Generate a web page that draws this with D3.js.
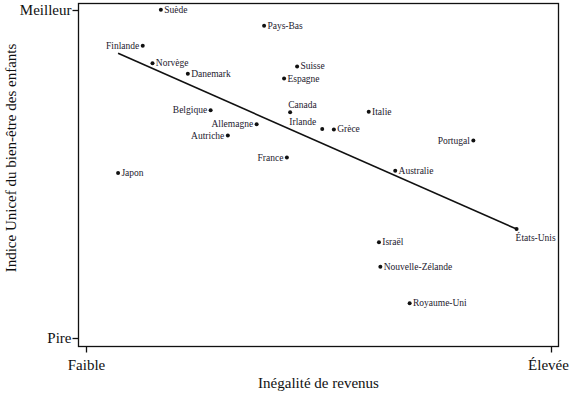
<!DOCTYPE html>
<html>
<head>
<meta charset="utf-8">
<script src="https://cdn.jsdelivr.net/npm/d3@7"></script>
<style>
  html, body { margin: 0; padding: 0; background: #fff; }
  svg { display: block; font-family: "Liberation Serif", "DejaVu Serif", serif; }
  .pt-label { font-size: 9.5px; fill: #23202e; }
  .tick-label { font-size: 15px; fill: #111; }
  .axis-title { font-size: 15px; fill: #111; }
</style>
</head>
<body>
<div id="chart"></div>
<script>
// ==== DATA ====
const COUNTRIES = ["Suède","Pays-Bas","Finlande","Norvège","Danemark","Suisse","Espagne","Canada",
  "Italie","Irlande","Grèce","Portugal","Australie","France","Belgique","Allemagne","Autriche",
  "Japon","États-Unis","Israël","Nouvelle-Zélande","Royaume-Uni"];
// income inequality (0 = Faible, 100 = Élevée)
const INEQUALITY = [16.1, 38.3, 12.2, 14.3, 21.9, 45.4, 42.6, 43.9,
  60.8, 50.8, 53.3, 83.3, 66.5, 43.2, 26.8, 36.7, 30.5,
  6.9, 92.6, 63.0, 63.3, 69.6];
// Unicef child well-being index (0 = Pire, 100 = Meilleur)
const WELLBEING = [100.1, 95.2, 89.1, 83.8, 80.6, 82.8, 79.1, 68.8,
  69.0, 63.7, 63.6, 60.2, 51.0, 55.0, 69.4, 65.2, 61.7,
  50.3, 33.2, 29.2, 21.7, 10.6];
// fitted trend line (start / end)
const TREND_X = [6.9, 92.6];
const TREND_Y = [86.8, 33.2];

const X_TICKS = [0, 100];
const X_TICK_LABELS = ["Faible", "Élevée"];
const Y_TICKS = [0, 100];
const Y_TICK_LABELS = ["Pire", "Meilleur"];

// label placement (default: right of the dot)
const LABEL_SIDE = {
  "Finlande": "left", "Belgique": "left", "Allemagne": "left", "Autriche": "left",
  "France": "left", "Portugal": "left", "Canada": "above", "Irlande": "aboveLeft",
  "États-Unis": "below"
};

// ==== SIZE ====
const width = 570, height = 394;
const box = { left: 78.5, right: 558.5, top: 3.5, bottom: 346.5 };

const x = d3.scaleLinear().domain([0, 100]).range([box.left + 7.5, box.right - 7.5]);
const y = d3.scaleLinear().domain([0, 100]).range([box.bottom - 8.5, box.top + 6.5]);

const svg = d3.select("#chart").append("svg")
  .attr("width", width)
  .attr("height", height)
  .attr("viewBox", `0 0 ${width} ${height}`);

// frame
svg.append("rect")
  .attr("x", box.left).attr("y", box.top)
  .attr("width", box.right - box.left).attr("height", box.bottom - box.top)
  .attr("fill", "none").attr("stroke", "#111").attr("stroke-width", 1.3);

// axes
const gx = svg.append("g").attr("transform", `translate(0,${box.bottom})`)
  .call(d3.axisBottom(x).tickValues(X_TICKS).tickSize(6).tickPadding(3)
    .tickFormat((d, i) => X_TICK_LABELS[i]));
const gy = svg.append("g").attr("transform", `translate(${box.left},0)`)
  .call(d3.axisLeft(y).tickValues(Y_TICKS).tickSize(6).tickPadding(1)
    .tickFormat((d, i) => Y_TICK_LABELS[i]));

[gx, gy].forEach(g => {
  g.attr("font-family", null).attr("font-size", null);
  g.select(".domain").remove();
  g.selectAll(".tick line").attr("stroke", "#111").attr("stroke-width", 1.3);
  g.selectAll(".tick text").attr("class", "tick-label");
});
gx.selectAll(".tick text").attr("dy", "0.95em").attr("dx", (d, i) => i === 1 ? -3 : 0);

// axis titles
svg.append("text")
  .attr("class", "axis-title")
  .attr("x", (box.left + box.right) / 2)
  .attr("y", 388)
  .attr("text-anchor", "middle")
  .text("Inégalité de revenus");

svg.append("text")
  .attr("class", "axis-title")
  .attr("transform", `translate(16,158) rotate(-90)`)
  .attr("text-anchor", "middle")
  .text("Indice Unicef du bien-être des enfants");

// trend line
svg.append("line")
  .attr("x1", x(TREND_X[0])).attr("y1", y(TREND_Y[0]))
  .attr("x2", x(TREND_X[1])).attr("y2", y(TREND_Y[1]))
  .attr("stroke", "#111").attr("stroke-width", 1.6);

// points
const points = COUNTRIES.map((c, i) => ({ name: c, ix: INEQUALITY[i], wb: WELLBEING[i] }));

const g = svg.append("g").attr("class", "points");
const pt = g.selectAll("g.pt").data(points).enter().append("g")
  .attr("class", "pt")
  .attr("transform", d => `translate(${x(d.ix)},${y(d.wb)})`);

pt.append("circle").attr("r", 2).attr("fill", "#111");

pt.append("text")
  .attr("class", "pt-label")
  .each(function(d) {
    const side = LABEL_SIDE[d.name] || "right";
    const t = d3.select(this);
    if (side === "left") t.attr("x", -3.5).attr("y", 3).attr("text-anchor", "end");
    else if (side === "above") t.attr("x", -2).attr("y", -4).attr("text-anchor", "start");
    else if (side === "aboveLeft") t.attr("x", -6).attr("y", -4.5).attr("text-anchor", "end");
    else if (side === "below") t.attr("x", -1).attr("y", 12).attr("text-anchor", "start");
    else t.attr("x", 3.3).attr("y", 3).attr("text-anchor", "start");
  })
  .text(d => d.name);
</script>
</body>
</html>
